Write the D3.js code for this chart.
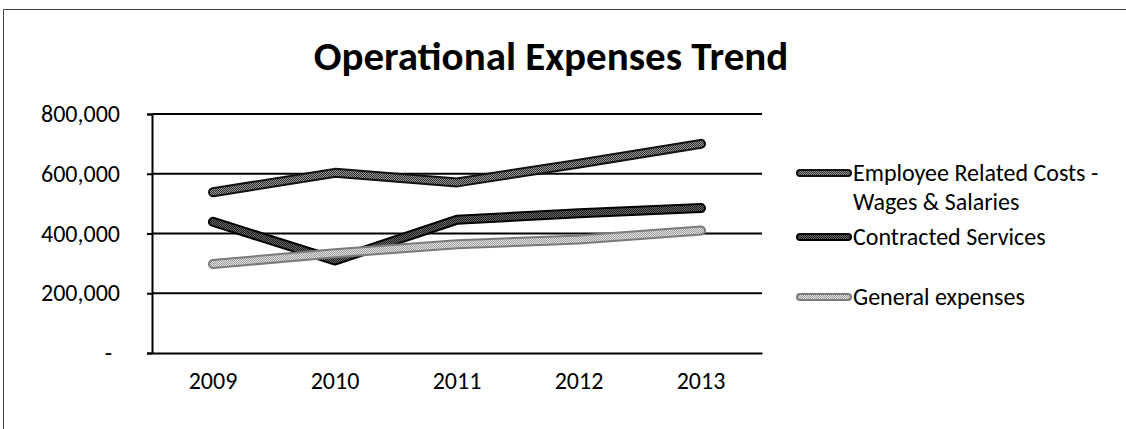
<!DOCTYPE html>
<html>
<head>
<meta charset="utf-8">
<script src="https://cdn.jsdelivr.net/npm/d3@7"></script>
<style>
  html, body { margin: 0; padding: 0; background: #fff; }
  svg { display: block; }
  text { font-family: Carlito, Calibri, Lato, "Open Sans", sans-serif; fill: #000; }
</style>
</head>
<body>
<svg id="chart" width="1126" height="429"></svg>
<script>
// Operational expenses by year
const years = ["2009", "2010", "2011", "2012", "2013"];
const employeeCosts = [538000, 603000, 571000, 634000, 700000];
const contractedServices = [439000, 310000, 446000, 468000, 485000];
const generalExpenses = [298000, 334000, 364000, 380000, 410000];
const seriesNames = ["Employee Related Costs - Wages & Salaries", "Contracted Services", "General expenses"];
const yTicks = [0, 200000, 400000, 600000, 800000];
const title = "Operational Expenses Trend";

const series = [
  { name: seriesNames[0], values: employeeCosts, edge: "#111", light: "#9a9a9a", dark: "#2a2a2a" },
  { name: seriesNames[1], values: contractedServices, edge: "#000", light: "#6a6a6a", dark: "#1a1a1a" },
  { name: seriesNames[2], values: generalExpenses, edge: "#7a7a7a", light: "#e4e4e4", dark: "#9a9a9a" }
];

const svg = d3.select("#chart");
const margin = { left: 152, right: 762, top: 114, bottom: 353 };
const labelFont = 24;

// dithered stroke fills
const defs = svg.append("defs");
series.forEach((s, i) => {
  const p = defs.append("pattern")
    .attr("id", "dither" + i)
    .attr("patternUnits", "userSpaceOnUse")
    .attr("width", 2).attr("height", 2);
  p.append("rect").attr("width", 2).attr("height", 2).attr("fill", s.light);
  p.append("rect").attr("width", 1).attr("height", 1).attr("fill", s.dark);
  p.append("rect").attr("x", 1).attr("y", 1).attr("width", 1).attr("height", 1).attr("fill", s.dark);
});

// outer frame
svg.append("path")
  .attr("d", "M3.5,440 L3.5,9.5 L1130,9.5")
  .attr("fill", "none").attr("stroke", "#444").attr("stroke-width", 1);

const x = d3.scaleBand().domain(years).range([margin.left, margin.right]);
const y = d3.scaleLinear().domain([0, 800000]).range([margin.bottom, margin.top]);

// horizontal gridlines
svg.append("g")
  .selectAll("line")
  .data(yTicks.filter(d => d > 0))
  .join("line")
  .attr("x1", margin.left).attr("x2", margin.right)
  .attr("y1", d => y(d)).attr("y2", d => y(d))
  .attr("stroke", "#000").attr("stroke-width", 2);

// y axis
const yAxis = d3.axisLeft(y)
  .tickValues(yTicks)
  .tickSize(5)
  .tickPadding(27)
  .tickFormat(d => d === 0 ? "-" : d3.format(",")(d));
const gy = svg.append("g").attr("transform", `translate(${margin.left},0)`).call(yAxis);
gy.select(".domain").attr("stroke", "#000").attr("stroke-width", 2);
gy.selectAll(".tick line").attr("stroke", "#000").attr("stroke-width", 2);
gy.selectAll(".tick text")
  .attr("font-size", labelFont).attr("fill", "#000")
  .style("font-family", "Carlito, Calibri, Lato, sans-serif");
gy.selectAll(".tick text").filter(d => d === 0).attr("dx", -8);

// x axis
const xAxis = d3.axisBottom(x).tickSize(0).tickPadding(19);
const gx = svg.append("g").attr("transform", `translate(0,${margin.bottom})`).call(xAxis);
gx.select(".domain").attr("stroke", "#000").attr("stroke-width", 2);
gx.selectAll(".tick text")
  .attr("font-size", labelFont).attr("fill", "#000")
  .style("font-family", "Carlito, Calibri, Lato, sans-serif");

// series lines
const line = d3.line()
  .x((d, i) => x(years[i]) + x.bandwidth() / 2)
  .y(d => y(d));

const gLines = svg.append("g");
series.forEach((s, i) => {
  gLines.append("path")
    .attr("d", line(s.values))
    .attr("fill", "none").attr("stroke", s.edge)
    .attr("stroke-width", 10).attr("stroke-linecap", "round").attr("stroke-linejoin", "round");
  gLines.append("path")
    .attr("d", line(s.values))
    .attr("fill", "none").attr("stroke", `url(#dither${i})`)
    .attr("stroke-width", 6).attr("stroke-linecap", "round").attr("stroke-linejoin", "round");
});

// title
svg.append("text")
  .attr("x", 551).attr("y", 70)
  .attr("text-anchor", "middle")
  .attr("font-size", 41).attr("font-weight", "bold")
  .text(title);

// legend
const legendRows = [
  { lines: ["Employee Related Costs -", "Wages & Salaries"], y: 173 },
  { lines: ["Contracted Services"], y: 237 },
  { lines: ["General expenses"], y: 297 }
];
const gLeg = svg.append("g");
legendRows.forEach((r, i) => {
  const s = series[i];
  gLeg.append("line")
    .attr("x1", 800).attr("x2", 848).attr("y1", r.y).attr("y2", r.y)
    .attr("stroke", s.edge).attr("stroke-width", 8).attr("stroke-linecap", "round");
  gLeg.append("line")
    .attr("x1", 800).attr("x2", 848).attr("y1", r.y).attr("y2", r.y)
    .attr("stroke", `url(#dither${i})`).attr("stroke-width", 4).attr("stroke-linecap", "round");
  const t = gLeg.append("text")
    .attr("x", 853).attr("y", r.y)
    .attr("font-size", labelFont);
  r.lines.forEach((ln, j) => {
    t.append("tspan").attr("x", 853).attr("dy", j === 0 ? "0.35em" : 29).text(ln);
  });
});
</script>
</body>
</html>
